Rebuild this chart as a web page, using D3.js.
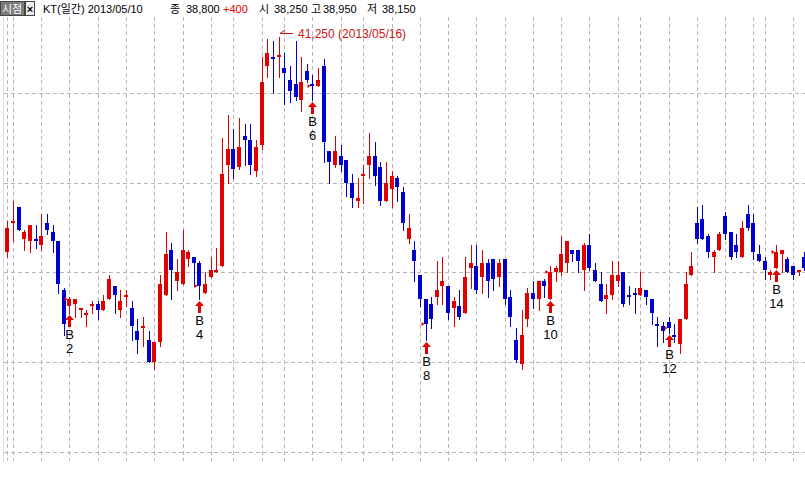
<!DOCTYPE html>
<html>
<head>
<meta charset="utf-8">
<script src="https://cdn.jsdelivr.net/npm/d3@7"></script>
<style>
  body { margin: 0; background: #fff; }
  svg { display: block; }
  text { font-family: "Liberation Sans", "Noto Sans CJK KR", sans-serif; }
</style>
</head>
<body>
<div id="chart"></div>
<script>
// trading days, 2013/03/08 - 2013/10/02
const dates = [
  "2013/03/08","2013/03/11","2013/03/12","2013/03/13","2013/03/14","2013/03/15","2013/03/18","2013/03/19","2013/03/20","2013/03/21","2013/03/22","2013/03/25","2013/03/26","2013/03/27","2013/03/28","2013/03/29",
  "2013/04/01","2013/04/02","2013/04/03","2013/04/04","2013/04/05","2013/04/08","2013/04/09","2013/04/10","2013/04/11","2013/04/12","2013/04/15","2013/04/16","2013/04/17","2013/04/18","2013/04/19","2013/04/22","2013/04/23","2013/04/24","2013/04/25","2013/04/26","2013/04/29","2013/04/30",
  "2013/05/02","2013/05/03","2013/05/06","2013/05/07","2013/05/08","2013/05/09","2013/05/10","2013/05/13","2013/05/14","2013/05/15","2013/05/16","2013/05/20","2013/05/21","2013/05/22","2013/05/23","2013/05/24","2013/05/27","2013/05/28","2013/05/29","2013/05/30","2013/05/31",
  "2013/06/03","2013/06/04","2013/06/05","2013/06/07","2013/06/10","2013/06/11","2013/06/12","2013/06/13","2013/06/14","2013/06/17","2013/06/18","2013/06/19","2013/06/20","2013/06/21","2013/06/24","2013/06/25","2013/06/26","2013/06/27","2013/06/28",
  "2013/07/01","2013/07/02","2013/07/03","2013/07/04","2013/07/05","2013/07/08","2013/07/09","2013/07/10","2013/07/11","2013/07/12","2013/07/15","2013/07/16","2013/07/17","2013/07/18","2013/07/19","2013/07/22","2013/07/23","2013/07/24","2013/07/25","2013/07/26","2013/07/29","2013/07/30","2013/07/31",
  "2013/08/01","2013/08/02","2013/08/05","2013/08/06","2013/08/07","2013/08/08","2013/08/09","2013/08/12","2013/08/13","2013/08/14","2013/08/16","2013/08/19","2013/08/20","2013/08/21","2013/08/22","2013/08/23","2013/08/26","2013/08/27","2013/08/28","2013/08/29","2013/08/30",
  "2013/09/02","2013/09/03","2013/09/04","2013/09/05","2013/09/06","2013/09/09","2013/09/10","2013/09/11","2013/09/12","2013/09/13","2013/09/16","2013/09/17","2013/09/23","2013/09/24","2013/09/25","2013/09/26","2013/09/27","2013/09/30",
  "2013/10/01","2013/10/02"
];

const open = [
  36450,37100,37450,36750,36700,36750,36600,37100,36900,36700,
  35600,35250,35300,35150,35050,35250,35300,35150,35400,35700,
  35150,35450,35200,34700,34750,34500,34000,34450,35500,36500,
  35800,35750,36300,36350,36200,35550,35900,36000,36150,38400,
  38750,38350,39050,38950,38250,38850,40600,40800,40800,40550,
  40300,40200,39850,40500,40200,40150,40600,38700,38400,38600,
  38500,38000,37600,38150,38400,38600,38350,37600,37850,38100,
  37800,36750,36500,35950,35400,35300,35450,35700,35700,35200,
  35250,35100,36100,36150,35900,36200,36300,35900,36300,35450,
  34500,33950,34950,35550,35400,35800,35400,36000,36000,36200,
  36500,36500,36050,36600,36050,35750,35400,35500,35800,36000,
  35500,35550,35500,35600,35400,34850,34800,34900,34600,34400,
  34950,35950,37100,37200,36800,36350,36500,37250,36900,36600,
  36350,37300,37100,36400,36250,35950,36100,36400,36300,36150,
  36000,36350
];
const high = [
  37150,37600,37450,36950,37050,37050,37300,37300,37050,36700,
  35650,35450,35400,35200,35150,35350,35350,35500,35950,35700,
  35600,35600,35350,34950,35000,34700,34450,35950,36900,36650,
  36300,36950,36500,36350,36250,36000,36350,36550,39000,39500,
  39200,39450,39300,39300,38950,40800,41200,41150,41250,40900,
  40600,41150,40800,40650,40400,40550,40750,38700,39050,38850,
  38500,38200,38100,38400,39100,38900,38450,38450,38250,38150,
  37900,37300,36700,35950,35400,35450,36250,36350,35700,35450,
  35600,36350,36600,36600,36500,36300,36300,36300,36300,35600,
  34750,35150,35650,35800,35800,35850,36150,36150,36800,36700,
  36500,36500,36650,36850,36200,36000,35750,36250,36250,36000,
  35700,35650,36000,35600,35400,35000,34900,35000,34850,34950,
  36000,36450,37450,37500,36850,36500,36900,37350,36900,36850,
  37150,37500,37300,36600,36350,36050,36600,36500,36350,36150,
  36050,36450
];
const low = [
  36350,36700,36950,36500,36450,36550,36500,36850,36450,35550,
  34600,35100,35000,35000,34800,35100,34950,35150,35400,35100,
  35000,35250,34500,34200,34350,34000,33850,34350,35500,35400,
  35600,35750,36150,35700,35400,35550,35900,36000,36150,38000,
  38100,38300,38400,38200,38150,38750,40350,40000,40350,39750,
  39800,39850,39600,40250,39850,40150,38450,38000,38350,38250,
  37700,37450,37450,37550,38100,37950,37500,37600,37450,37600,
  36950,36650,35800,35250,34500,34750,35300,35300,34950,34800,
  34950,35100,35650,35550,35550,35450,35600,35700,35300,34800,
  34000,33850,34800,35200,35150,35450,35400,35800,35950,36000,
  36250,36000,35600,36050,35800,35350,35100,35400,35700,35250,
  35300,35100,35500,35300,34850,34350,34450,34650,34450,34200,
  34950,35950,36650,36750,36350,36000,36500,36750,36300,36350,
  36350,36950,36300,36250,35850,35850,36100,36000,36000,35850,
  35950,36050
];
const close = [
  37000,37150,36950,36900,37050,36700,36800,36950,36700,35750,
  34850,35400,35400,35200,35100,35300,35150,35350,35850,35500,
  35350,35500,34800,34500,34800,34000,34450,35750,36400,36050,
  36000,36500,36450,36200,35700,35750,36050,36050,38200,38750,
  38300,38800,38950,38400,38800,40250,40900,40750,40850,40450,
  40050,39900,40250,40300,40150,40300,38900,38450,38700,38400,
  38000,37650,37650,38200,38600,38150,37600,38000,38150,37900,
  37100,37000,36250,35400,34850,34950,35600,35800,35100,35350,
  35000,35900,36200,35600,36200,35800,35850,36200,35400,35000,
  34050,34600,35550,35400,35800,35700,36000,36100,36400,36700,
  36400,36250,36600,36100,35800,35350,35500,35950,35950,35300,
  35450,35500,35650,35450,35100,34800,34700,34750,34550,34950,
  35750,36150,36750,36750,36450,36450,36850,36850,36350,36450,
  37000,37000,36450,36250,36050,36000,36450,36500,36000,35950,
  36050,36100
];

const priceGrid = [40000, 38000, 36000, 34000, 32000];
const signalDates = ["2013/03/25","2013/04/25","2013/05/27","2013/06/25","2013/07/25","2013/08/26","2013/09/25"];
const signalNums = ["2", "4", "6", "8", "10", "12", "14"];
const stockName = "KT(일간)";
const cursorDate = "2013/05/10";

const width = 805, height = 478;
const upColor = "#e00000", downColor = "#0000cc", gridColor = "#b8b8b8";

const svg = d3.select("#chart").append("svg")
    .attr("width", width).attr("height", height);

const x = d3.scalePoint().domain(dates).range([7.3, 804.2]);
const y = d3.scaleLinear().domain([40000, 32000]).range([93, 451.7]);
const px = v => Math.round(x(v)) + 0.5;
const fmt = d3.format(",");

const candles = dates.map((d, i) => ({
    date: d, o: open[i], h: high[i], l: low[i], c: close[i],
    up: close[i] > open[i] || (close[i] == open[i] && i > 0 && close[i] >= close[i - 1])
}));

// left border
svg.append("line")
    .attr("x1", 3.5).attr("x2", 3.5).attr("y1", 17).attr("y2", 462)
    .attr("stroke", "#dcdcdc");

// weekly grid: first trading day of each week
const parse = d3.timeParse("%Y/%m/%d");
const weekStarts = dates.filter((d, i) =>
    i == 0 || +d3.timeMonday.floor(parse(d)) != +d3.timeMonday.floor(parse(dates[i - 1])));

svg.append("g").selectAll("line").data(weekStarts).join("line")
    .attr("x1", d => px(d)).attr("x2", d => px(d))
    .attr("y1", 17).attr("y2", 461)
    .attr("stroke", gridColor).attr("stroke-dasharray", "4,3");

svg.append("g").selectAll("line").data(priceGrid).join("line")
    .attr("x1", 4).attr("x2", width)
    .attr("y1", d => Math.round(y(d)) + 0.5).attr("y2", d => Math.round(y(d)) + 0.5)
    .attr("stroke", gridColor).attr("stroke-dasharray", "4,3");

// candles
const g = svg.append("g");
g.selectAll("line").data(candles).join("line")
    .attr("x1", d => px(d.date)).attr("x2", d => px(d.date))
    .attr("y1", d => Math.round(y(d.h))).attr("y2", d => Math.round(y(d.l)) + 1)
    .attr("stroke", d => d.up ? upColor : downColor);

g.selectAll("rect").data(candles).join("rect")
    .attr("x", d => Math.round(x(d.date)) - 2)
    .attr("width", 4)
    .attr("y", d => Math.round(y(Math.max(d.o, d.c))))
    .attr("height", d => Math.max(1, Math.round(y(Math.min(d.o, d.c))) - Math.round(y(Math.max(d.o, d.c)))))
    .attr("fill", d => d.up ? upColor : downColor);

// buy signals
const sig = svg.append("g").selectAll("g").data(signalDates).join("g")
    .attr("transform", d => {
        const c = candles[dates.indexOf(d)];
        return `translate(${Math.round(x(d)) + 0.5},${Math.round(y(c.l)) + 2})`;
    });
sig.append("path")
    .attr("d", "M0,0 L4.5,5 L1.5,5 L1.5,12 L-1.5,12 L-1.5,5 L-4.5,5 Z")
    .attr("fill", upColor);
sig.append("path")
    .attr("d", d => {
        const c = candles[dates.indexOf(d)];
        const dy = Math.round(y(c.c)) - Math.round(y(c.l)) - 2;
        return `M-5,${dy - 2} L-2,${dy} L-5,${dy + 2} Z`;
    })
    .attr("fill", upColor);
sig.append("text").attr("y", 24).attr("text-anchor", "middle")
    .attr("font-size", 13).attr("fill", "#000").text("B");
sig.append("text").attr("y", 38).attr("text-anchor", "middle")
    .attr("font-size", 13).attr("fill", "#000").text((d, i) => signalNums[i]);

// highest price label
const hi = d3.maxIndex(high);
const hx = Math.round(x(dates[hi])) + 1, hy = Math.round(y(high[hi])) - 4;
svg.append("path")
    .attr("d", `M${hx + 13},${hy + 0.5} H${hx} L${hx + 5},${hy - 3}`)
    .attr("fill", "none").attr("stroke", "#c81414");
svg.append("text")
    .attr("x", hx + 18).attr("y", hy + 5)
    .attr("font-size", 12).attr("fill", "#c81414")
    .text(`${fmt(high[hi])} (${dates[hi]})`);

// header
const head = svg.append("g");
head.append("rect").attr("x", 0.5).attr("y", 1.5).attr("width", 24).attr("height", 14)
    .attr("fill", "#7b7b7b").attr("stroke", "#444");
head.append("text").attr("x", 2).attr("y", 13).attr("font-size", 11).attr("fill", "#fff").text("시점");
head.append("rect").attr("x", 25.5).attr("y", 1.5).attr("width", 9).attr("height", 14)
    .attr("fill", "#eeeeee").attr("stroke", "#444");
head.append("text").attr("x", 30).attr("y", 12.5).attr("text-anchor", "middle")
    .attr("font-size", 11).attr("font-weight", "bold").attr("fill", "#000").text("×");

const ci = dates.indexOf(cursorDate);
const chg = close[ci] - close[ci - 1];
const items = [
    [43, `${stockName} ${cursorDate}`, "#000"],
    [170, "종", "#000"], [186, fmt(close[ci]), "#000"],
    [223, (chg > 0 ? "+" : "") + fmt(chg), chg > 0 ? "#e00000" : "#0000cc"],
    [259, "시", "#000"], [274, fmt(open[ci]), "#000"],
    [311, "고", "#000"], [323, fmt(high[ci]), "#000"],
    [367, "저", "#000"], [382, fmt(low[ci]), "#000"]
];
head.selectAll("text.item").data(items).join("text")
    .attr("class", "item")
    .attr("x", d => d[0]).attr("y", 13)
    .attr("font-size", 11).attr("fill", d => d[2])
    .text(d => d[1]);
</script>
</body>
</html>
